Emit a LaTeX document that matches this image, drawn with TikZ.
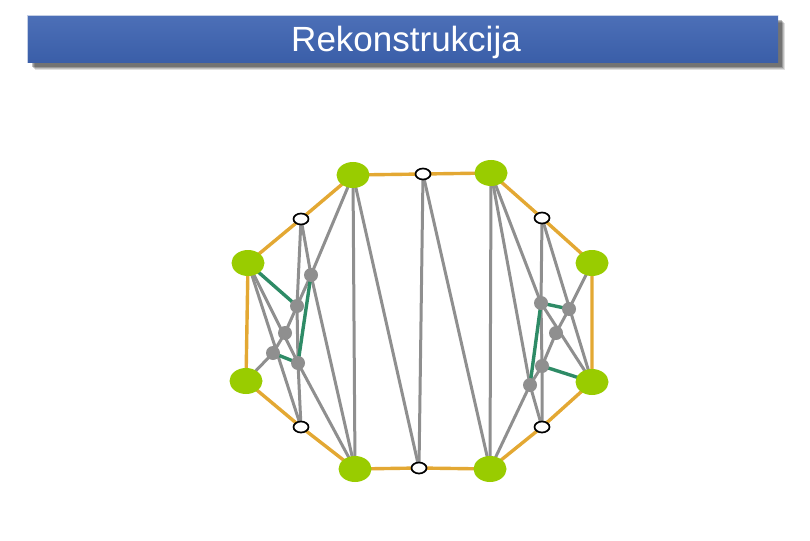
\documentclass[tikz,border=0pt]{standalone}
\usepackage{fontspec}
\setmainfont{Liberation Sans}
\usetikzlibrary{shapes.geometric,backgrounds}
\definecolor{bigg}{HTML}{99CC00}
\definecolor{oran}{HTML}{E3A833}
\definecolor{grayn}{HTML}{8F8F8F}
\definecolor{gedge}{HTML}{2E8B66}
\definecolor{barblue}{HTML}{3A5EA8}
\definecolor{bartop}{HTML}{4C6FB7}
\tikzset{
  bignode/.style={ellipse, fill=bigg, minimum width=33pt, minimum height=26pt, inner sep=0pt},
  opennode/.style={ellipse, draw=black, line width=1.7pt, fill=white, minimum width=15pt, minimum height=11pt, inner sep=0pt},
  smallnode/.style={circle, fill=grayn, minimum size=14pt, inner sep=0pt},
  rim/.style={draw=oran, line width=3.4pt},
  gline/.style={draw=grayn, line width=3pt},
  greenline/.style={draw=gedge, line width=3.4pt},
  titlebar/.style={rectangle, top color=bartop, bottom color=barblue, minimum width=750pt, minimum height=47pt, inner sep=0pt}
}
\begin{document}
\begin{tikzpicture}[x=1pt,y=-1pt]
\useasboundingbox (0,0) rectangle (810,540);
% title shadow
\foreach \d/\o in {7/0.12,6/0.15,5/0.2,4/0.25}{
  \fill[black, opacity=\o] (28+\d,16+\d) rectangle (778+\d,63+\d);
}
\node[titlebar] (title) at (403,39.5) {};
\node[text=white, font=\fontsize{35}{37}\selectfont] (ttext) at (406,42) {Rekonstrukcija};
\draw[white!70!barblue, line width=0.8pt] (title.south west) -- (title.north west) -- (title.north east);

% big green nodes
\node[bignode] (TL) at (353,175) {};
\node[bignode] (TR) at (491,173) {};
\node[bignode] (L1) at (248,263) {};
\node[bignode] (R1) at (592,263) {};
\node[bignode] (L2) at (246,381) {};
\node[bignode] (R2) at (592,382) {};
\node[bignode] (BL) at (355,469) {};
\node[bignode] (BR) at (490,469) {};
% open nodes
\node[opennode] (TM) at (423,174) {};
\node[opennode] (BM) at (419,468) {};
\node[opennode] (UL) at (301,219) {};
\node[opennode] (UR) at (542,218) {};
\node[opennode] (LL) at (301,427) {};
\node[opennode] (LR) at (542,427) {};
% left gray nodes
\node[smallnode] (A) at (311,275) {};
\node[smallnode] (B) at (297,306) {};
\node[smallnode] (C) at (285,333) {};
\node[smallnode] (D) at (273,353) {};
\node[smallnode] (E) at (298,363) {};
% right gray nodes
\node[smallnode] (P) at (541,303) {};
\node[smallnode] (Q) at (569,309) {};
\node[smallnode] (R) at (556,333) {};
\node[smallnode] (S) at (542,366) {};
\node[smallnode] (T) at (530,385) {};

\begin{pgfonlayer}{background}
% middle zigzag
\draw[gline] (TL.center) -- (BL.center);
\draw[gline] (TL.center) -- (BM.center);
\draw[gline] (TM.center) -- (BM.center);
\draw[gline] (TM.center) -- (BR.center);
\draw[gline] (TR.center) -- (BR.center);
% left cluster
\draw[gline] (TL.center) -- (A.center) -- (B.center) -- (C.center) -- (D.center) -- (L2.center);
\draw[gline] (UL.center) -- (B.center) -- (E.center) -- (LL.center);
\draw[gline] (L1.center) -- (LL.center);
\draw[gline] (L1.center) -- (E.center) -- (BL.center);
\draw[gline] (UL.center) -- (A.center) -- (BL.center);
% right cluster
\draw[gline] (BR.center) -- (T.center) -- (S.center) -- (R.center) -- (Q.center) -- (R1.center);
\draw[gline] (LR.center) -- (S.center) -- (P.center) -- (UR.center);
\draw[gline] (R2.center) -- (UR.center);
\draw[gline] (R2.center) -- (P.center) -- (TR.center);
\draw[gline] (LR.center) -- (T.center) -- (TR.center);
% green edges
\draw[greenline] (L1.center) -- (B.center);
\draw[greenline] (A.center) -- (E.center);
\draw[greenline] (D.center) -- (E.center);
\draw[greenline] (R2.center) -- (S.center);
\draw[greenline] (T.center) -- (P.center);
\draw[greenline] (Q.center) -- (P.center);
% rim
\draw[rim] (TL.center) -- (TM.center) -- (TR.center) -- (UR.center) -- (R1.center) -- (R2.center) -- (LR.center) -- (BR.center) -- (BM.center) -- (BL.center) -- (LL.center) -- (L2.center) -- (L1.center) -- (UL.center) -- (TL.center);
\end{pgfonlayer}
\end{tikzpicture}
\end{document}
